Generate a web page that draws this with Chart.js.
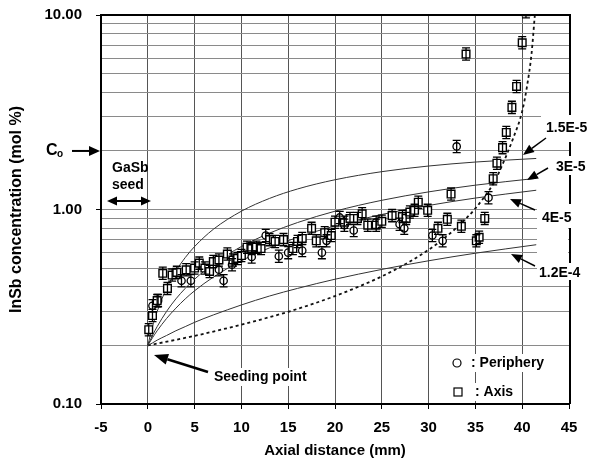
<!DOCTYPE html>
<html><head><meta charset="utf-8">
<script src="https://cdn.jsdelivr.net/npm/chart.js@4.4.0/dist/chart.umd.min.js"></script>
<style>html,body{margin:0;padding:0;background:#fff}canvas{display:block}</style>
</head><body>
<canvas id="c" width="597" height="466"></canvas>
<script>
// ---------- data ----------
const X_TICKS = [-5, 0, 5, 10, 15, 20, 25, 30, 35, 40, 45];
const Y_TICKS = [0.1, 0.2, 0.3, 0.4, 0.5, 0.6, 0.7, 0.8, 0.9, 1, 2, 3, 4, 5, 6, 7, 8, 9, 10];
const Y_MAJOR = [0.1, 1, 10];
const C0 = 2.0;

// Axis (squares)
const axisX = [0.1,0.5,1.0,1.6,2.1,2.6,3.1,4.1,5.0,5.5,6.1,6.6,7.0,7.6,8.5,9.1,9.6,10.0,10.6,11.1,11.6,12.1,13.0,13.6,14.5,15.5,16.0,16.5,17.5,18.0,18.9,19.6,20.0,21.0,21.6,22.4,22.9,23.5,24.4,25.0,26.1,27.2,27.6,28.0,28.5,28.9,29.9,31.0,32.0,32.4,33.5,34.0,35.1,35.4,36.0,36.9,37.3,37.9,38.3,38.9,39.4,40.0,40.4];
const axisY = [0.241,0.285,0.34,0.47,0.393,0.46,0.475,0.49,0.50,0.53,0.50,0.48,0.54,0.55,0.59,0.55,0.56,0.58,0.64,0.63,0.64,0.63,0.70,0.685,0.70,0.63,0.685,0.71,0.80,0.69,0.76,0.735,0.86,0.86,0.90,0.90,0.95,0.83,0.83,0.87,0.93,0.92,0.90,0.97,0.99,1.09,0.99,0.80,0.89,1.20,0.82,6.3,0.69,0.72,0.90,1.44,1.73,2.08,2.49,3.35,4.29,7.2,10.4];
// Periphery (circles)
const periX = [0.5,1.1,3.6,4.6,7.6,8.1,9.0,11.1,12.6,14.0,15.0,16.5,18.6,19.1,20.5,21.0,22.0,24.4,26.9,27.4,30.4,31.5,33.0,36.4];
const periY = [0.32,0.34,0.43,0.43,0.49,0.43,0.52,0.57,0.735,0.575,0.60,0.615,0.60,0.69,0.91,0.83,0.78,0.86,0.84,0.80,0.735,0.69,2.11,1.15];
const ERR_FACTOR = 1.075;

// Calculated curves (solid) and dotted curve
const curveX = [0,0.5,1,2,3,4,5,7,10,13,16,20,25,30,35,41.5];
const d15  = [0.2,0.25,0.299,0.393,0.482,0.566,0.645,0.791,0.98,1.14,1.275,1.422,1.565,1.673,1.754,1.83];
const d30  = [0.2,0.225,0.25,0.299,0.347,0.393,0.438,0.525,0.645,0.756,0.857,0.98,1.115,1.232,1.334,1.446];
const d40  = [0.2,0.219,0.238,0.275,0.311,0.347,0.382,0.449,0.545,0.635,0.719,0.824,0.943,1.049,1.145,1.256];
const d120 = [0.2,0.206,0.213,0.225,0.238,0.25,0.263,0.287,0.323,0.359,0.393,0.438,0.492,0.545,0.596,0.659];
const dotX = [0,5,10,15,20,25,28,30,32,34,35,36,37,38,39,40,40.5,41,41.35];
const dotY = [0.2,0.224,0.256,0.298,0.359,0.453,0.54,0.621,0.733,0.898,1.014,1.168,1.38,1.75,2.3,3.2,4.26,6.34,10];

const FONT = "'Liberation Sans', Arial, Helvetica, sans-serif";
const pts = (xs, ys) => xs.map((v, i) => ({x: v, y: ys[i]}));
const line = (xs, ys, extra) => Object.assign({type:'line', data: pts(xs, ys), borderColor:'#333', borderWidth:1,
  pointRadius:0, fill:false, cubicInterpolationMode:'monotone'}, extra || {});

// ---------- plugins ----------
const errorBars = {
  id: 'errorBars',
  afterDatasetsDraw(chart) {
    const {ctx, chartArea: a, scales: {x, y}} = chart;
    ctx.save();
    ctx.beginPath(); ctx.rect(a.left, a.top, a.right - a.left, a.bottom - a.top); ctx.clip();
    ctx.strokeStyle = '#000'; ctx.lineWidth = 1.3;
    chart.data.datasets.forEach(ds => {
      if (!ds.errFactor) return;
      ds.data.forEach(p => {
        const px = x.getPixelForValue(p.x);
        const lo = y.getPixelForValue(p.y / ds.errFactor), hi = y.getPixelForValue(p.y * ds.errFactor);
        ctx.beginPath();
        ctx.moveTo(px, lo); ctx.lineTo(px, hi);
        ctx.moveTo(px - 4, lo); ctx.lineTo(px + 4, lo);
        ctx.moveTo(px - 4, hi); ctx.lineTo(px + 4, hi);
        ctx.stroke();
      });
    });
    ctx.restore();
  }
};

function arrow(ctx, x1, y1, x2, y2, hl, hw) {
  const ang = Math.atan2(y2 - y1, x2 - x1);
  const bx = x2 - hl * Math.cos(ang), by = y2 - hl * Math.sin(ang);
  ctx.beginPath(); ctx.moveTo(x1, y1); ctx.lineTo(bx, by); ctx.stroke();
  ctx.beginPath(); ctx.moveTo(x2, y2);
  ctx.lineTo(bx + hw / 2 * Math.sin(ang), by - hw / 2 * Math.cos(ang));
  ctx.lineTo(bx - hw / 2 * Math.sin(ang), by + hw / 2 * Math.cos(ang));
  ctx.closePath(); ctx.fill();
}

const annotations = {
  id: 'annotations',
  afterDraw(chart) {
    const {ctx, chartArea: a, scales: {x, y}} = chart;
    ctx.save();
    ctx.strokeStyle = '#000'; ctx.fillStyle = '#000';
    // top and right frame
    ctx.lineWidth = 2;
    ctx.beginPath(); ctx.moveTo(a.left, a.top); ctx.lineTo(a.right + 1, a.top); ctx.lineTo(a.right + 1, a.bottom); ctx.stroke();
    // white boxes behind labels
    ctx.fillStyle = '#fff';
    [[541,115,52,27],[550,156,42,19],[537,196,31,80],[538,204,54,24],[537,263,55,17],
     [212,368,94,18],[469,354,73,18],[473,383,40,18]].forEach(b => ctx.fillRect(b[0], b[1], b[2], b[3]));
    // redraw border segment between 4E-5 and 1.2E-4
    ctx.beginPath(); ctx.moveTo(a.right + 1, 228); ctx.lineTo(a.right + 1, 263); ctx.stroke();
    ctx.fillStyle = '#000';
    ctx.textBaseline = 'middle';
    // C0
    const yc = y.getPixelForValue(C0);
    ctx.font = 'bold 16px ' + FONT; ctx.textAlign = 'left';
    ctx.fillText('C', 46, yc);
    ctx.font = 'bold 10px ' + FONT; ctx.fillText('o', 57, yc + 3);
    ctx.lineWidth = 2;
    arrow(ctx, 72, yc, 100, yc, 11, 10);
    // GaSb seed
    ctx.font = 'bold 14px ' + FONT;
    ctx.fillText('GaSb', 112, 168);
    ctx.fillText('seed', 112, 185);
    const ys = 201;
    arrow(ctx, 128, ys, 107, ys, 10, 9);
    arrow(ctx, 128, ys, 151, ys, 10, 9);
    // Seeding point
    ctx.font = 'bold 14px ' + FONT;
    ctx.fillText('Seeding point', 214, 377);
    ctx.lineWidth = 2.5;
    arrow(ctx, 208, 372, 154, 355, 14, 11);
    // right labels
    ctx.font = 'bold 14px ' + FONT;
    ctx.fillText('1.5E-5', 546, 128);
    ctx.fillText('3E-5', 556, 167);
    ctx.fillText('4E-5', 542, 218);
    ctx.fillText('1.2E-4', 539, 273);
    ctx.lineWidth = 1.5;
    arrow(ctx, 546, 138, 523, 155, 11, 9);
    arrow(ctx, 548, 168, 527, 180, 11, 9);
    arrow(ctx, 535, 210, 510, 199, 11, 9);
    arrow(ctx, 535, 266, 511, 254, 11, 9);
    // legend
    ctx.lineWidth = 1.2;
    ctx.beginPath(); ctx.arc(457, 363, 4, 0, Math.PI * 2); ctx.stroke();
    ctx.strokeRect(454, 388, 8, 8);
    ctx.font = 'bold 14px ' + FONT;
    ctx.fillText(': Periphery', 471, 363);
    ctx.fillText(': Axis', 475, 392);
    ctx.restore();
  }
};

// ---------- chart ----------
new Chart(document.getElementById('c'), {
  type: 'scatter',
  data: {
    datasets: [
      {label:'Axis', data: pts(axisX, axisY), pointStyle:'rect', pointRadius:5.4, pointBorderWidth:1.4,
       borderColor:'#000', backgroundColor:'#fff', errFactor: ERR_FACTOR, clip: 0},
      {label:'Periphery', data: pts(periX, periY), pointStyle:'circle', pointRadius:3.7, pointBorderWidth:1.3,
       borderColor:'#000', backgroundColor:'#fff', errFactor: ERR_FACTOR, clip: 0},
      line(curveX, d15), line(curveX, d30), line(curveX, d40), line(curveX, d120),
      line(dotX, dotY, {borderDash:[3,3], borderWidth:1.8, borderColor:'#111'})
    ]
  },
  options: {
    responsive: false, animation: false, devicePixelRatio: 1,
    layout: {padding: {top: 15, right: 28, left: 0, bottom: 0}},
    plugins: {legend: {display: false}, tooltip: {enabled: false}},
    scales: {
      x: {
        type: 'linear', min: -5, max: 45,
        afterBuildTicks: s => { s.ticks = X_TICKS.map(v => ({value: v})); },
        afterFit: s => { s.height = 62; s.paddingLeft = 0; s.paddingRight = 0; },
        ticks: {color:'#000', font:{family:FONT, size:15, weight:'bold'}, padding: 10, autoSkip:false},
        grid: {color:'#555', lineWidth:1, tickLength:5, tickColor:'#000'},
        border: {color:'#000', width:2},
        title: {display:true, text:'Axial distance (mm)', color:'#000', font:{family:FONT, size:15, weight:'bold'}, padding:{top:0, bottom:6}}
      },
      y: {
        type: 'logarithmic', min: 0.1, max: 10,
        afterBuildTicks: s => { s.ticks = Y_TICKS.map(v => ({value: v})); },
        afterFit: s => { s.width = 101; s.paddingTop = 0; s.paddingBottom = 0; },
        ticks: {color:'#000', font:{family:FONT, size:15, weight:'bold'}, padding: 14, autoSkip:false,
          callback: v => Y_MAJOR.includes(v) ? v.toFixed(2) : ''},
        grid: {color:'#8a8a8a', lineWidth:1, tickLength:5,
          tickColor: c => (c.tick && Y_MAJOR.includes(c.tick.value)) ? '#000' : 'rgba(0,0,0,0)'},
        border: {color:'#000', width:2},
        title: {display:true, text:'InSb concentration (mol %)', color:'#000', font:{family:FONT, size:16, weight:'bold'}, padding:{top:7, bottom:0}}
      }
    }
  },
  plugins: [errorBars, annotations]
});
</script>
</body></html>
